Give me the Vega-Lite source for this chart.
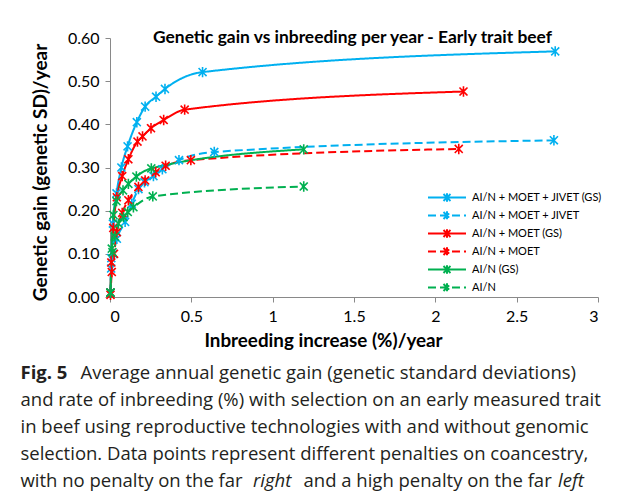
{
  "$schema": "https://vega.github.io/schema/vega-lite/v6.json",
  "padding": {"left": 20, "top": 28, "right": 5, "bottom": 5},
  "background": "white",
  "bounds": "flush",
  "spacing": 62,
  "config": {
    "view": {"stroke": null},
    "font": "Lato",
    "axis": {"domainColor": "#898989", "tickColor": "#898989", "labelColor": "#000", "titleColor": "#000", "grid": false}
  },
  "vconcat": [
    {
      "width": 488,
      "height": 259,
      "title": {"text": "Genetic gain vs inbreeding per year -  Early trait beef", "fontSize": 17.4, "fontWeight": "bold", "font": "Lato", "offset": -10, "dy": 20, "dx": -1.5, "baseline": "alphabetic", "color": "#000"},
      "data": {"values": [
        {"series": "AI/N + MOET + JIVET (GS)", "x": 0.003, "y": 0.01},
        {"series": "AI/N + MOET + JIVET (GS)", "x": 0.008, "y": 0.09},
        {"series": "AI/N + MOET + JIVET (GS)", "x": 0.018, "y": 0.17},
        {"series": "AI/N + MOET + JIVET (GS)", "x": 0.04, "y": 0.24},
        {"series": "AI/N + MOET + JIVET (GS)", "x": 0.07, "y": 0.30},
        {"series": "AI/N + MOET + JIVET (GS)", "x": 0.108, "y": 0.349},
        {"series": "AI/N + MOET + JIVET (GS)", "x": 0.165, "y": 0.405},
        {"series": "AI/N + MOET + JIVET (GS)", "x": 0.216, "y": 0.441},
        {"series": "AI/N + MOET + JIVET (GS)", "x": 0.283, "y": 0.464},
        {"series": "AI/N + MOET + JIVET (GS)", "x": 0.338, "y": 0.482},
        {"series": "AI/N + MOET + JIVET (GS)", "x": 0.569, "y": 0.521},
        {"series": "AI/N + MOET + JIVET (GS)", "x": 2.737, "y": 0.569},
        {"series": "AI/N + MOET + JIVET", "x": 0.003, "y": 0.01},
        {"series": "AI/N + MOET + JIVET", "x": 0.007, "y": 0.066},
        {"series": "AI/N + MOET + JIVET", "x": 0.02, "y": 0.10},
        {"series": "AI/N + MOET + JIVET", "x": 0.042, "y": 0.135},
        {"series": "AI/N + MOET + JIVET", "x": 0.093, "y": 0.174},
        {"series": "AI/N + MOET + JIVET", "x": 0.134, "y": 0.216},
        {"series": "AI/N + MOET + JIVET", "x": 0.175, "y": 0.25},
        {"series": "AI/N + MOET + JIVET", "x": 0.212, "y": 0.266},
        {"series": "AI/N + MOET + JIVET", "x": 0.267, "y": 0.28},
        {"series": "AI/N + MOET + JIVET", "x": 0.322, "y": 0.296},
        {"series": "AI/N + MOET + JIVET", "x": 0.424, "y": 0.317},
        {"series": "AI/N + MOET + JIVET", "x": 0.641, "y": 0.336},
        {"series": "AI/N + MOET + JIVET", "x": 2.729, "y": 0.363},
        {"series": "AI/N + MOET (GS)", "x": 0.003, "y": 0.01},
        {"series": "AI/N + MOET (GS)", "x": 0.008, "y": 0.08},
        {"series": "AI/N + MOET (GS)", "x": 0.02, "y": 0.16},
        {"series": "AI/N + MOET (GS)", "x": 0.042, "y": 0.231},
        {"series": "AI/N + MOET (GS)", "x": 0.075, "y": 0.28},
        {"series": "AI/N + MOET (GS)", "x": 0.113, "y": 0.319},
        {"series": "AI/N + MOET (GS)", "x": 0.169, "y": 0.36},
        {"series": "AI/N + MOET (GS)", "x": 0.2, "y": 0.372},
        {"series": "AI/N + MOET (GS)", "x": 0.252, "y": 0.391},
        {"series": "AI/N + MOET (GS)", "x": 0.33, "y": 0.41},
        {"series": "AI/N + MOET (GS)", "x": 0.459, "y": 0.434},
        {"series": "AI/N + MOET (GS)", "x": 2.173, "y": 0.476},
        {"series": "AI/N + MOET", "x": 0.003, "y": 0.005},
        {"series": "AI/N + MOET", "x": 0.011, "y": 0.058},
        {"series": "AI/N + MOET", "x": 0.025, "y": 0.10},
        {"series": "AI/N + MOET", "x": 0.042, "y": 0.15},
        {"series": "AI/N + MOET", "x": 0.075, "y": 0.195},
        {"series": "AI/N + MOET", "x": 0.113, "y": 0.224},
        {"series": "AI/N + MOET", "x": 0.175, "y": 0.255},
        {"series": "AI/N + MOET", "x": 0.216, "y": 0.27},
        {"series": "AI/N + MOET", "x": 0.281, "y": 0.289},
        {"series": "AI/N + MOET", "x": 0.342, "y": 0.304},
        {"series": "AI/N + MOET", "x": 0.497, "y": 0.317},
        {"series": "AI/N + MOET", "x": 2.144, "y": 0.343},
        {"series": "AI/N (GS)", "x": 0.003, "y": 0.01},
        {"series": "AI/N (GS)", "x": 0.011, "y": 0.112},
        {"series": "AI/N (GS)", "x": 0.021, "y": 0.19},
        {"series": "AI/N (GS)", "x": 0.04, "y": 0.222},
        {"series": "AI/N (GS)", "x": 0.08, "y": 0.247},
        {"series": "AI/N (GS)", "x": 0.113, "y": 0.262},
        {"series": "AI/N (GS)", "x": 0.162, "y": 0.279},
        {"series": "AI/N (GS)", "x": 0.254, "y": 0.298},
        {"series": "AI/N (GS)", "x": 1.191, "y": 0.342},
        {"series": "AI/N", "x": 0.003, "y": 0.01},
        {"series": "AI/N", "x": 0.015, "y": 0.104},
        {"series": "AI/N", "x": 0.03, "y": 0.14},
        {"series": "AI/N", "x": 0.052, "y": 0.17},
        {"series": "AI/N", "x": 0.083, "y": 0.185},
        {"series": "AI/N", "x": 0.109, "y": 0.197},
        {"series": "AI/N", "x": 0.144, "y": 0.208},
        {"series": "AI/N", "x": 0.263, "y": 0.233},
        {"series": "AI/N", "x": 1.191, "y": 0.256}
      ]},
      "encoding": {
        "x": {"field": "x", "type": "quantitative", "scale": {"domain": [0, 3], "nice": false},
          "axis": {"values": [0, 0.5, 1, 1.5, 2, 2.5, 3], "format": "~g", "title": "Inbreeding increase (%)/year", "titleFontSize": 18.8, "titleFontWeight": "bold", "labelFontSize": 16, "tickSize": 5, "labelPadding": 6, "titlePadding": 7, "titleX": 213}},
        "y": {"field": "y", "type": "quantitative", "scale": {"domain": [0, 0.6], "nice": false},
          "axis": {"values": [0, 0.1, 0.2, 0.3, 0.4, 0.5, 0.6], "format": ".2f", "title": "Genetic gain (genetic SD)/year", "titleFontSize": 19, "titleFontWeight": "bold", "labelFontSize": 16, "tickSize": 5, "labelPadding": 6, "titlePadding": 16.5, "titleY": 134}},
        "color": {"field": "series", "type": "nominal",
          "scale": {"domain": ["AI/N + MOET + JIVET (GS)", "AI/N + MOET + JIVET", "AI/N + MOET (GS)", "AI/N + MOET", "AI/N (GS)", "AI/N"],
            "range": ["#00B0F0", "#00B0F0", "#FF0000", "#FF0000", "#00B050", "#00B050"]},
          "legend": {"title": null, "orient": "none", "legendX": 331, "legendY": 153.5, "labelFontSize": 11, "labelFont": "Lato", "labelColor": "#000", "symbolType": "M-3.8,0H3.8M-0.7,-0.7L0.7,0.7M-0.7,0.7L0.7,-0.7M0,-0.85V0.85", "symbolSize": 100, "symbolStrokeWidth": 2, "rowPadding": 0, "labelOffset": 19}},
        "strokeDash": {"field": "series", "type": "nominal",
          "scale": {"domain": ["AI/N + MOET + JIVET (GS)", "AI/N + MOET + JIVET", "AI/N + MOET (GS)", "AI/N + MOET", "AI/N (GS)", "AI/N"],
            "range": [[1, 0], [8, 4], [1, 0], [8, 4], [1, 0], [8, 4]]},
          "legend": {"title": null, "orient": "none", "legendX": 331, "legendY": 153.5, "labelFontSize": 11, "labelFont": "Lato", "labelColor": "#000", "symbolType": "M-3.8,0H3.8M-0.7,-0.7L0.7,0.7M-0.7,0.7L0.7,-0.7M0,-0.85V0.85", "symbolSize": 100, "symbolStrokeWidth": 2, "rowPadding": 0, "labelOffset": 19}}
      },
      "layer": [
        {"mark": {"type": "line", "interpolate": "monotone", "strokeWidth": 2}},
        {"mark": {"type": "point", "shape": "M-1,-1L1,1M-1,1L1,-1M0,-1.3V1.3", "size": 64, "filled": false, "strokeWidth": 1.6, "opacity": 1}, "encoding": {"strokeDash": {"value": [1, 0]}}}
      ]
    },
    {
      "width": 488,
      "height": 135,
      "data": {"values": [
        {"line": 1, "part": "fig", "text": "Fig. 5"},
        {"line": 1, "part": "first", "text": "Average annual genetic gain (genetic standard deviations)"},
        {"line": 2, "part": "body", "text": "and rate of inbreeding (%) with selection on an early measured trait"},
        {"line": 3, "part": "body", "text": "in beef using reproductive technologies with and without genomic"},
        {"line": 4, "part": "body", "text": "selection. Data points represent different penalties on coancestry,"},
        {"line": 5, "part": "body", "text": "with no penalty on the far"},
        {"line": 5, "part": "it1", "text": "right"},
        {"line": 5, "part": "mid", "text": "and a high penalty on the far"},
        {"line": 5, "part": "it2", "text": "left"}
      ]},
      "encoding": {
        "x": {"datum": 0, "type": "quantitative", "scale": {"domain": [0, 1]}, "axis": null},
        "y": {"field": "line", "type": "ordinal", "axis": null, "scale": {"paddingInner": 0, "paddingOuter": 0}},
        "text": {"field": "text"}
      },
      "layer": [
        {"transform": [{"filter": "datum.part == 'fig'"}], "mark": {"type": "text", "align": "left", "baseline": "middle", "font": "Open Sans", "fontSize": 18.5, "fontWeight": "bold", "color": "#231f20", "dx": -89.5}},
        {"transform": [{"filter": "datum.part == 'first'"}], "mark": {"type": "text", "align": "left", "baseline": "middle", "font": "Open Sans", "fontSize": 18.5, "color": "#231f20", "dx": -29.5}},
        {"transform": [{"filter": "datum.part == 'body'"}], "mark": {"type": "text", "align": "left", "baseline": "middle", "font": "Open Sans", "fontSize": 18.5, "color": "#231f20", "dx": -89.5}},
        {"transform": [{"filter": "datum.part == 'it1'"}], "mark": {"type": "text", "align": "left", "baseline": "middle", "font": "Open Sans", "fontSize": 18.5, "fontStyle": "italic", "color": "#231f20", "dx": 143}},
        {"transform": [{"filter": "datum.part == 'mid'"}], "mark": {"type": "text", "align": "left", "baseline": "middle", "font": "Open Sans", "fontSize": 18.5, "color": "#231f20", "dx": 193.5}},
        {"transform": [{"filter": "datum.part == 'it2'"}], "mark": {"type": "text", "align": "left", "baseline": "middle", "font": "Open Sans", "fontSize": 18.5, "fontStyle": "italic", "color": "#231f20", "dx": 448}}
      ]
    }
  ]
}
